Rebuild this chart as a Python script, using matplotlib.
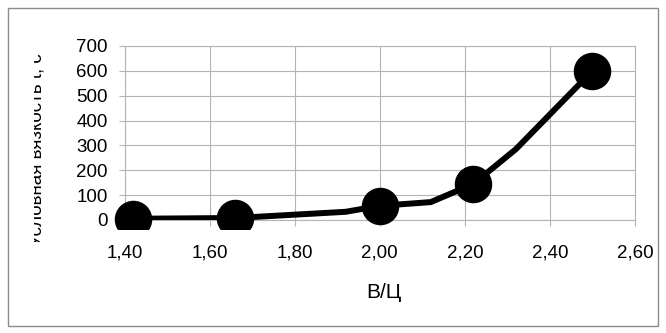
import matplotlib
matplotlib.use("Agg")
import matplotlib.pyplot as plt
from matplotlib.patches import Rectangle
from matplotlib.transforms import Bbox, TransformedBbox
from matplotlib.ticker import FuncFormatter

# Curve through all measured points
curve_x = [1.42, 1.66, 1.92, 2.00, 2.12, 2.22, 2.32, 2.50]
curve_y = [5, 8, 33, 57, 72, 145, 285, 600]

# Highlighted points
point_x = [1.42, 1.66, 2.00, 2.22, 2.50]
point_y = [5, 8, 57, 145, 600]

x_ticks = [1.40, 1.60, 1.80, 2.00, 2.20, 2.40, 2.60]
y_ticks = [0, 100, 200, 300, 400, 500, 600, 700]

x_label = "В/Ц"
y_label = "Условная вязкость t, c"

plt.rcParams["font.family"] = ["Liberation Sans", "DejaVu Sans"]

W, H = 666, 333
fig = plt.figure(figsize=(W / 100, H / 100), dpi=100)
fig.patch.set_facecolor("white")

# Outer chart border
fig.patches.append(Rectangle((8 / W, 7 / H), 650 / W, 318 / H,
                             transform=fig.transFigure, fill=False,
                             edgecolor="#8c8c8c", linewidth=1.0))

ax = fig.add_axes([124.5 / W, (H - 220) / H, (635 - 124.5) / W, (220 - 46) / H])
ax.set_xlim(1.40, 2.60)
ax.set_ylim(0, 700)
ax.set_xticks(x_ticks)
ax.set_yticks(y_ticks)
ax.xaxis.set_major_formatter(FuncFormatter(lambda v, p: f"{v:.2f}".replace(".", ",")))
ax.yaxis.set_major_formatter(FuncFormatter(lambda v, p: f"{v:.0f}"))

grid_c = "#b4b4b4"
ax.grid(True, color=grid_c, linewidth=0.8)
ax.set_axisbelow(True)
for s in ax.spines.values():
    s.set_color(grid_c)
    s.set_linewidth(0.8)
ax.tick_params(axis="both", direction="out", length=4, width=0.8, color=grid_c,
               labelsize=13.5, labelcolor="black")
ax.tick_params(axis="y", pad=8)
ax.tick_params(axis="x", pad=14)

ax.plot(curve_x, curve_y, color="black", linewidth=4.3, solid_joinstyle="round",
        solid_capstyle="round", zorder=3)
pts, = ax.plot(point_x, point_y, linestyle="none", marker="o", markersize=26,
               markerfacecolor="black", markeredgecolor="black", zorder=4)
pts.set_clip_box(TransformedBbox(Bbox.from_extents(0, (H - 229) / H, 1, 1), fig.transFigure))

fig.text(384 / W, 1 - 292 / H, x_label, ha="center", va="center", fontsize=15)

# Axis title, cut along its length by the chart's left area edge
yl = fig.text(37 / W, 1 - 53 / H, y_label, rotation=90, ha="center", va="top", fontsize=13.5)
yl.set_clip_on(True)
yl.set_clip_box(TransformedBbox(Bbox.from_extents(34 / W, (H - 242) / H, 1, 1), fig.transFigure))

fig.savefig("out.png", dpi=100, facecolor="white")
